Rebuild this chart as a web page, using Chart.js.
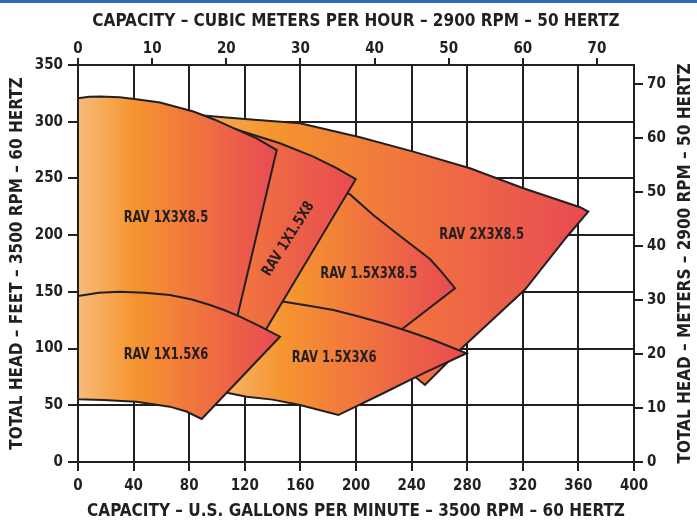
<!DOCTYPE html>
<html>
<head>
<meta charset="utf-8">
<title>RAV pump coverage</title>
<script src="https://cdn.jsdelivr.net/npm/chart.js@4.4.1/dist/chart.umd.min.js"></script>
<style>
  html, body { margin: 0; padding: 0; background: #fff; }
  #wrap { position: relative; width: 697px; height: 522px; }
  #topRule { position: absolute; left: 0; top: 0; width: 697px; height: 3px; background: #2b6cb0; }
</style>
</head>
<body>
<div id="wrap">
  <canvas id="coverageChart"></canvas>
  <div id="topRule"></div>
</div>
<script>
const INK = '#231f20';
const FONT = '"Liberation Sans Narrow", "DejaVu Sans Condensed", "Arial Narrow", sans-serif';

// tick values of the four axes
const gpmTicks = [0, 40, 80, 120, 160, 200, 240, 280, 320, 360, 400];
const cubicMeterTicks = [0, 10, 20, 30, 40, 50, 60, 70];
const feetTicks = [0, 50, 100, 150, 200, 250, 300, 350];
const meterTicks = [0, 10, 20, 30, 40, 50, 60, 70];

// models, listed top layer first
const models = ['RAV 1X1.5X6', 'RAV 1X3X8.5', 'RAV 1X1.5X8', 'RAV 1.5X3X6', 'RAV 1.5X3X8.5', 'RAV 2X3X8.5'];

// outline of each coverage area as [gpm, feet]
const rav1x15x6 = [
    [0, 146.4], [15, 149.3], [30, 150.2], [48, 149.3], [66, 147.3], [82, 143.3], [95, 138.4],
    [106, 133.6], [116.5, 128.1], [131, 119.5], [145.3, 110.5],
    [89, 37.9], [78, 44.5], [66, 48.8], [42, 53.2], [18, 54.7], [0, 55.3], [0, 146.4]
];
const rav1x3x85 = [
    [0, 320.7], [8, 322], [16, 322.3], [30, 321.5], [42, 319.8], [59, 317], [83, 309], [98, 302],
    [111.5, 294.5], [128.5, 285.4], [143, 275],
    [113, 120], [60, 122], [0, 125], [0, 320.7]
];
const rav1x15x8 = [
    [100, 298], [109.4, 295], [127, 288], [145.3, 281], [169.3, 269.2], [186, 259], [199.8, 249.3],
    [127, 100], [105, 110], [100, 298]
];
const rav15x3x6 = [
    [147, 141.5], [165, 138], [183.7, 134], [200, 129], [219.6, 122.3], [238, 115], [255.6, 107.6], [279.6, 95.9],
    [248.4, 78.2], [219.6, 60.6], [187.3, 41.4],
    [159.7, 50.3], [140, 55], [121.4, 57.6], [107, 61.1], [98, 63], [125, 110], [147, 141.5]
];
const rav15x3x85 = [
    [192, 238], [195.7, 235.9], [212.4, 217.8], [231.7, 199.2], [253.2, 178.9], [262, 167], [271.2, 153.2],
    [234, 117.9], [215, 100], [145, 125], [145, 141], [192, 238]
];
const rav2x3x85 = [
    [75, 303], [90, 305.5], [120, 302.5], [159.7, 298.7], [202.9, 286.3], [241.2, 273.6], [282, 259],
    [320.4, 241.4], [361.2, 224.6], [367.1, 220.7],
    [351.7, 198.6], [321.6, 152], [276, 100.3], [249.6, 67.9],
    [215, 103], [145, 118], [120, 200], [75, 303]
];
const outlines = [rav1x15x6, rav1x3x85, rav1x15x8, rav15x3x6, rav15x3x85, rav2x3x85];

// where each model name sits, [gpm, feet], and its slant
const labelAnchors = [[63.3, 94.4], [63.3, 215], [151.4, 196.6], [184.3, 91.4], [209.2, 165.8], [290.4, 200.2]];
const labelAngles = [0, 0, -58, 0, 0, 0];

// gpm range each orange-to-red gradient runs over
const gradientSpans = [[0, 145], [0, 143], [0, 200], [95, 280], [110, 271], [50, 367]];

function shapeFill(from, to) {
    return function (context) {
        const chart = context.chart;
        const {ctx, chartArea, scales} = chart;
        if (!chartArea) {
            return null;
        }
        const g = ctx.createLinearGradient(scales.x.getPixelForValue(from), 0, scales.x.getPixelForValue(to), 0);
        g.addColorStop(0, '#f8bb79');
        g.addColorStop(0.28, '#f5952f');
        g.addColorStop(0.62, '#f07140');
        g.addColorStop(1, '#e84a52');
        return g;
    };
}

function fixedTicks(values) {
    return scale => { scale.ticks = values.map(value => ({value})); };
}

function fixedSize(prop, px) {
    return scale => { scale[prop] = px; };
}

const tickFont = {family: FONT, weight: 'bold', size: 15};
const titleFont = {family: FONT, weight: 'bold', size: 17, lineHeight: 1};

const shapeLabels = {
    id: 'shapeLabels',
    afterDatasetsDraw(chart) {
        const {ctx, scales: {x, y}} = chart;
        ctx.save();
        ctx.fillStyle = INK;
        ctx.textAlign = 'center';
        ctx.textBaseline = 'middle';
        ctx.font = `bold 15px ${FONT}`;
        models.forEach((name, i) => {
            const [gpm, feet] = labelAnchors[i];
            ctx.save();
            ctx.translate(x.getPixelForValue(gpm), y.getPixelForValue(feet));
            ctx.rotate(labelAngles[i] * Math.PI / 180);
            ctx.scale(0.86, 1); // the printed labels use a condensed face
            ctx.fillText(name, 0, 0);
            ctx.restore();
        });

        // right hand title reads bottom to top, like the left one
        ctx.font = `bold 17px ${FONT}`;
        ctx.translate(686, (chart.chartArea.top + chart.chartArea.bottom) / 2);
        ctx.rotate(-Math.PI / 2);
        ctx.fillText('TOTAL HEAD – METERS – 2900 RPM – 50 HERTZ', 0, 0);
        ctx.restore();
    }
};

const datasets = outlines.map((outline, i) => ({
    label: models[i],
    data: outline.map(([gpm, feet]) => ({x: gpm, y: feet})),
    showLine: true,
    fill: 'shape',
    tension: 0,
    borderColor: INK,
    borderWidth: 2,
    borderJoinStyle: 'miter',
    pointRadius: 0,
    pointHoverRadius: 0,
    backgroundColor: shapeFill(gradientSpans[i][0], gradientSpans[i][1])
}));

new Chart('coverageChart', {
    type: 'scatter',
    data: {datasets},
    plugins: [shapeLabels],
    options: {
        responsive: true,
        maintainAspectRatio: false,
        animation: false,
        events: [],
        layout: {padding: 0},
        plugins: {legend: {display: false}, tooltip: {enabled: false}},
        scales: {
            x: {
                type: 'linear', position: 'bottom', min: 0, max: 400,
                afterBuildTicks: fixedTicks(gpmTicks),
                afterFit: fixedSize('height', 60),
                grid: {color: INK, lineWidth: 2, tickLength: 9},
                border: {color: INK, width: 2},
                ticks: {color: INK, font: tickFont, padding: 6, maxRotation: 0},
                title: {display: true, text: 'CAPACITY – U.S. GALLONS PER MINUTE – 3500 RPM – 60 HERTZ',
                        color: INK, font: titleFont, padding: {top: 0, bottom: 2}}
            },
            x2: {
                type: 'linear', position: 'top', min: 0, max: 75,
                afterBuildTicks: fixedTicks(cubicMeterTicks),
                afterFit: fixedSize('height', 65),
                grid: {color: INK, lineWidth: 2, tickLength: 7, drawOnChartArea: false},
                border: {color: INK, width: 2},
                ticks: {color: INK, font: tickFont, padding: 0, maxRotation: 0},
                title: {display: true, text: 'CAPACITY – CUBIC METERS PER HOUR – 2900 RPM – 50 HERTZ',
                        color: INK, font: titleFont, padding: {top: 13, bottom: 0}}
            },
            y: {
                type: 'linear', position: 'left', min: 0, max: 350,
                afterBuildTicks: fixedTicks(feetTicks),
                afterFit: fixedSize('width', 78),
                grid: {color: INK, lineWidth: 2, tickLength: 10},
                border: {color: INK, width: 2},
                ticks: {color: INK, font: tickFont, padding: 5},
                title: {display: true, text: 'TOTAL HEAD – FEET – 3500 RPM – 60 HERTZ',
                        color: INK, font: titleFont, padding: {top: 9, bottom: 0}}
            },
            y2: {
                type: 'linear', position: 'right', min: 0, max: 73.6,
                afterBuildTicks: fixedTicks(meterTicks),
                afterFit: fixedSize('width', 63),
                grid: {color: INK, lineWidth: 2, tickLength: 9, drawOnChartArea: false},
                border: {color: INK, width: 2},
                ticks: {color: INK, font: tickFont, padding: 4}
            }
        }
    }
});
</script>
</body>
</html>
